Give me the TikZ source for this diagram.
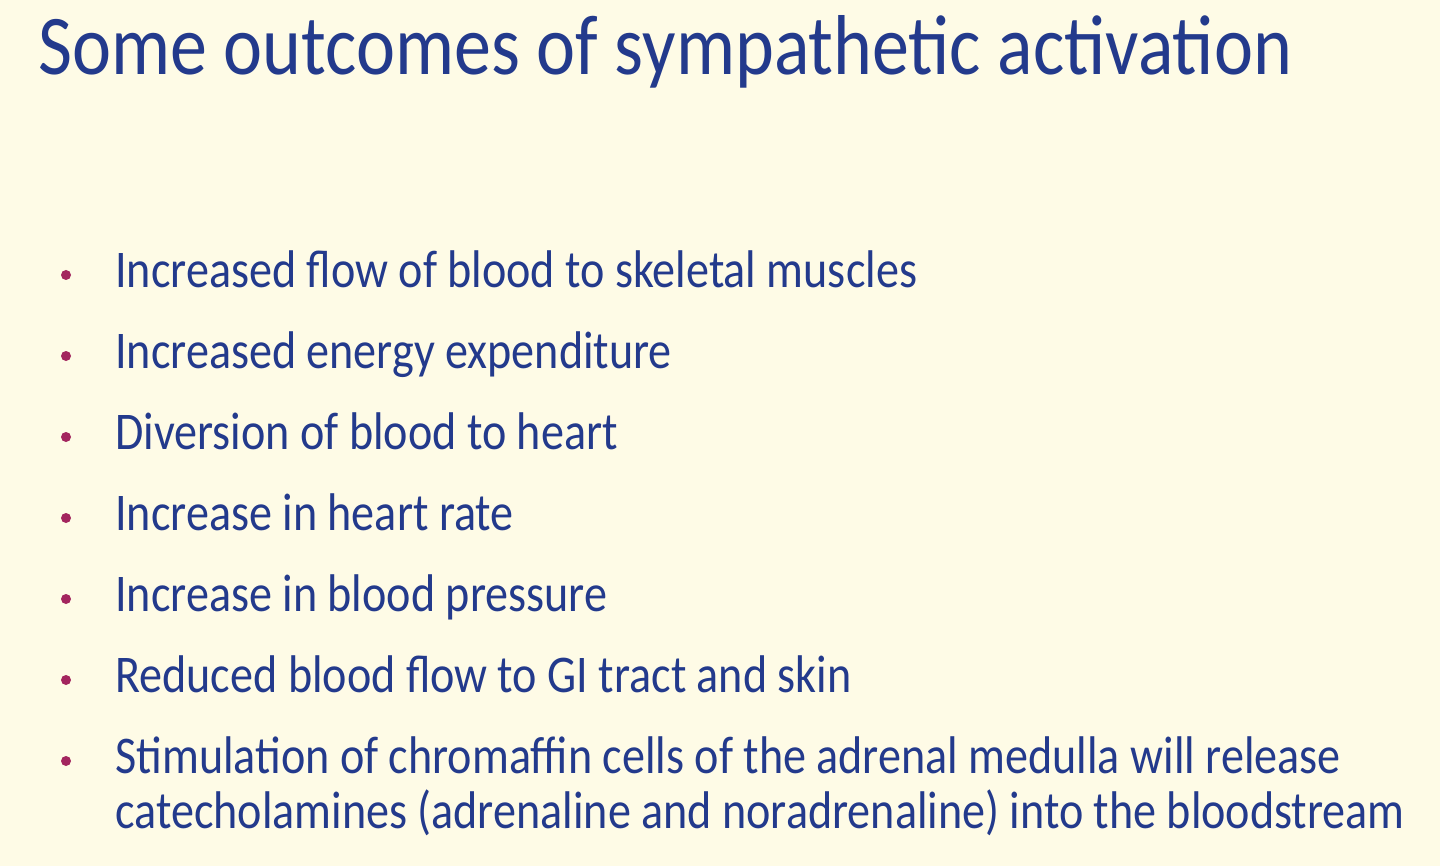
\documentclass[tikz,border=0pt]{standalone}
\usepackage{fontspec}
\setmainfont{Carlito}
\definecolor{bg}{HTML}{FEFBE6}
\definecolor{tblue}{HTML}{233A8C}
\definecolor{bul}{HTML}{A3255E}
\begin{document}
\begin{tikzpicture}[x=0.5pt,y=-0.5pt,
  item/.style={anchor=base west,inner sep=0pt,text=tblue,font=\fontsize{26.5}{28}\selectfont,xscale=0.87,transform shape},
  dot/.style={circle,fill=bul,inner sep=0pt,minimum size=5pt}]
\fill[bg] (0,0) rectangle (1440,866);
\useasboundingbox (0,0) rectangle (1440,866);
\node[anchor=base west,inner sep=0pt,text=tblue,font=\fontsize{42.5}{46}\selectfont,xscale=0.87,transform shape] (title) at (38,75) {Some outcomes of sympathetic activation};
\foreach \y/\t [count=\i] in {287/Increased flow of blood to skeletal muscles,
  368/Increased energy expenditure,
  449/Diversion of blood to heart,
  530/Increase in heart rate,
  611/Increase in blood pressure,
  692/Reduced blood flow to GI tract and skin,
  773/Stimulation of chromaffin cells of the adrenal medulla will release}{
  \node[dot] (b\i) at (66,\y-12) {};
  \node[item] (t\i) at (115,\y) {\t};
}
\node[item] (t8) at (115,828) {catecholamines (adrenaline and noradrenaline) into the bloodstream};
\end{tikzpicture}
\end{document}
